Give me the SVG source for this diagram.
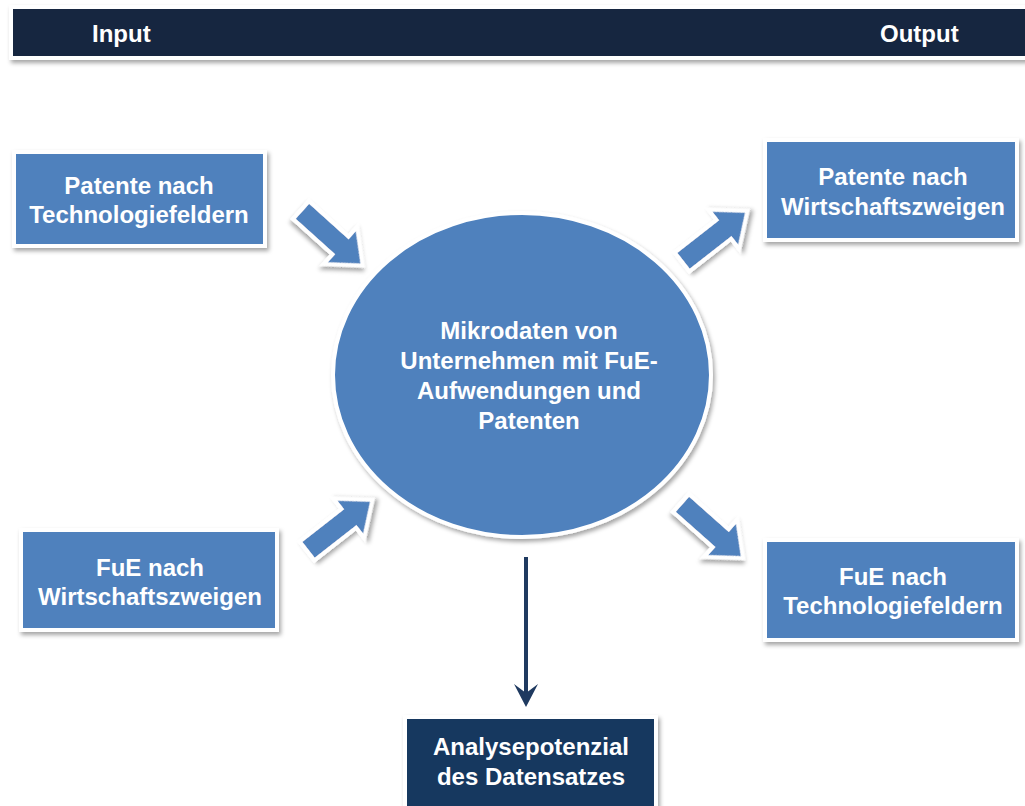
<svg xmlns="http://www.w3.org/2000/svg" width="1025" height="806" viewBox="0 0 1025 806">
<defs>
<filter id="sh" x="-20%" y="-20%" width="140%" height="150%">
<feDropShadow dx="2" dy="3" stdDeviation="2" flood-color="#000" flood-opacity="0.35"/>
</filter>
<path id="barrow" d="M0,-12 H53 V-25 L83,0 L53,25 V12 H0 Z"/>
</defs>
<style>
.box{fill:#4f81bd;stroke:#fff;stroke-width:4;filter:url(#sh)}
.dark{fill:#17375e;stroke:#fff;stroke-width:4;filter:url(#sh)}
.hdr{fill:#13263f;stroke:#fff;stroke-width:4;filter:url(#sh)}
.t{font-family:"Liberation Sans",Arial,sans-serif;font-weight:bold;font-size:24px;fill:#fff;text-anchor:middle}
.ba{fill:#4f81bd;stroke:#fff;stroke-width:4;stroke-linejoin:miter;filter:url(#sh)}
</style>
<rect width="1025" height="806" fill="#fff"/>
<g id="header">
<rect class="hdr" x="11" y="7" width="1020" height="51"/>
<text class="t" x="92" y="42" style="text-anchor:start">Input</text>
<text class="t" x="880" y="42" style="text-anchor:start">Output</text>
</g>
<g id="connectors">
<use href="#barrow" class="ba" transform="translate(301,210) rotate(42)"/>
<use href="#barrow" class="ba" transform="translate(682,262) rotate(-38)"/>
<use href="#barrow" class="ba" transform="translate(307,551) rotate(-38)"/>
<use href="#barrow" class="ba" transform="translate(681,503) rotate(41.6)"/>
<line x1="526" y1="557" x2="526" y2="694" stroke="#1f3a60" stroke-width="4"/>
<path d="M514,684 L526,707 L538,684 L526,693 Z" fill="#1f3a60"/>
</g>
<g id="center">
<ellipse cx="522" cy="375" rx="189" ry="162" fill="#4f81bd" stroke="#fff" stroke-width="4" filter="url(#sh)"/>
<text class="t" x="529" y="339">Mikrodaten von</text>
<text class="t" x="529" y="369">Unternehmen mit FuE-</text>
<text class="t" x="529" y="399">Aufwendungen und</text>
<text class="t" x="529" y="429">Patenten</text>
</g>
<g id="in-patente">
<rect class="box" x="14" y="152" width="251" height="94"/>
<text class="t" x="139" y="194">Patente nach</text>
<text class="t" x="139" y="223">Technologiefeldern</text>
</g>
<g id="in-fue">
<rect class="box" x="21" y="530" width="256" height="100"/>
<text class="t" x="150" y="576">FuE nach</text>
<text class="t" x="150" y="605">Wirtschaftszweigen</text>
</g>
<g id="out-patente">
<rect class="box" x="765" y="140" width="252" height="100"/>
<text class="t" x="893" y="185">Patente nach</text>
<text class="t" x="893" y="215">Wirtschaftszweigen</text>
</g>
<g id="out-fue">
<rect class="box" x="765" y="540" width="252" height="100"/>
<text class="t" x="893" y="585">FuE nach</text>
<text class="t" x="893" y="614">Technologiefeldern</text>
</g>
<g id="analyse">
<rect class="dark" x="405" y="717" width="251" height="100"/>
<text class="t" x="531" y="755">Analysepotenzial</text>
<text class="t" x="531" y="785">des Datensatzes</text>
</g>
</svg>
